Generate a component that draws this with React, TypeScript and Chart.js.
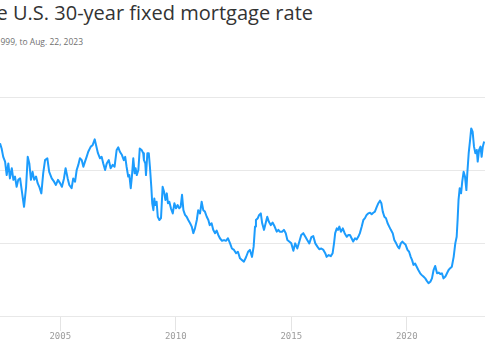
import React, { useEffect, useRef } from 'react';
import { Chart, registerables } from 'chart.js';

Chart.register(...registerables);

// Decimal year of each observation
const years = [
  2002.39, 2002.46, 2002.53, 2002.61, 2002.68, 2002.75, 2002.82, 2002.90, 2002.97,
  2003.04, 2003.11, 2003.18, 2003.26, 2003.33, 2003.43, 2003.52, 2003.59, 2003.66, 2003.73, 2003.80, 2003.87, 2003.95,
  2004.02, 2004.09, 2004.18, 2004.26, 2004.34, 2004.44, 2004.52, 2004.63, 2004.73, 2004.81, 2004.90, 2004.99,
  2005.07, 2005.16, 2005.23, 2005.32, 2005.39, 2005.49, 2005.56, 2005.64, 2005.71, 2005.78, 2005.85, 2005.93,
  2006.00, 2006.07, 2006.14, 2006.21, 2006.32, 2006.40, 2006.49, 2006.55, 2006.63, 2006.72, 2006.79, 2006.86, 2006.94,
  2007.01, 2007.10, 2007.18, 2007.27, 2007.35, 2007.44, 2007.51, 2007.58, 2007.67, 2007.75, 2007.81, 2007.87, 2007.94, 2007.99,
  2008.05, 2008.10, 2008.16, 2008.22, 2008.26, 2008.31, 2008.38, 2008.44, 2008.52, 2008.59, 2008.62, 2008.68, 2008.71, 2008.77, 2008.83, 2008.88, 2008.94, 2008.98,
  2009.03, 2009.07, 2009.11, 2009.17, 2009.22, 2009.29, 2009.36, 2009.43, 2009.49, 2009.55, 2009.61, 2009.66, 2009.72, 2009.79, 2009.87, 2009.94,
  2010.01, 2010.08, 2010.15, 2010.21, 2010.27, 2010.33, 2010.40, 2010.47, 2010.54, 2010.62, 2010.69, 2010.76, 2010.83, 2010.91, 2010.97,
  2011.05, 2011.12, 2011.19, 2011.26, 2011.34, 2011.41, 2011.47, 2011.55, 2011.62, 2011.70, 2011.77, 2011.84, 2011.91,
  2012.00, 2012.09, 2012.17, 2012.26, 2012.35, 2012.43, 2012.52, 2012.61, 2012.69, 2012.78, 2012.87, 2012.95,
  2013.04, 2013.13, 2013.21, 2013.30, 2013.37, 2013.43, 2013.47, 2013.55, 2013.61, 2013.68, 2013.74, 2013.82, 2013.89, 2013.96,
  2014.03, 2014.11, 2014.19, 2014.28, 2014.37, 2014.44, 2014.50, 2014.60, 2014.68, 2014.76, 2014.83, 2014.91,
  2015.00, 2015.09, 2015.17, 2015.26, 2015.35, 2015.43, 2015.52, 2015.61, 2015.69, 2015.78, 2015.87, 2015.95,
  2016.04, 2016.13, 2016.21, 2016.30, 2016.39, 2016.47, 2016.53, 2016.62, 2016.71, 2016.79, 2016.85, 2016.90, 2016.97,
  2017.02, 2017.08, 2017.15, 2017.23, 2017.31, 2017.40, 2017.47, 2017.54, 2017.61, 2017.68, 2017.76, 2017.83, 2017.90, 2017.97,
  2018.05, 2018.12, 2018.19, 2018.26, 2018.33, 2018.41, 2018.48, 2018.55, 2018.62, 2018.70, 2018.77, 2018.84, 2018.90, 2018.96,
  2019.03, 2019.10, 2019.17, 2019.24, 2019.31, 2019.39, 2019.46, 2019.54, 2019.61, 2019.67, 2019.74, 2019.81, 2019.88, 2019.95,
  2020.03, 2020.10, 2020.17, 2020.23, 2020.29, 2020.36, 2020.43, 2020.50, 2020.58, 2020.65, 2020.72, 2020.80, 2020.86, 2020.94,
  2021.02, 2021.09, 2021.16, 2021.23, 2021.31, 2021.38, 2021.45, 2021.52, 2021.59, 2021.67, 2021.74, 2021.81, 2021.88, 2021.95,
  2022.03, 2022.10, 2022.16, 2022.20, 2022.24, 2022.29, 2022.35, 2022.40, 2022.46, 2022.52, 2022.58, 2022.62, 2022.68, 2022.74, 2022.79, 2022.85, 2022.91, 2022.97,
  2023.03, 2023.07, 2023.13, 2023.19, 2023.24, 2023.29, 2023.35,
];

// 30-year fixed mortgage rate, percent
const rates = [
  6.73, 6.59, 6.36, 6.23, 5.86, 6.18, 5.77, 6.05, 5.73,
  5.82, 5.54, 5.73, 5.77, 5.45, 4.99, 5.54, 6.36, 6.18, 5.73, 5.95, 5.73, 5.82,
  5.64, 5.54, 5.36, 5.91, 6.27, 6.32, 5.95, 5.77, 5.68, 5.59, 5.73, 5.64,
  5.54, 5.77, 6.05, 5.77, 5.59, 5.50, 5.77, 5.68, 6.00, 6.14, 6.32, 6.27,
  6.09, 6.23, 6.36, 6.50, 6.64, 6.68, 6.84, 6.68, 6.46, 6.32, 6.36, 6.18, 6.00,
  6.18, 6.27, 6.05, 6.14, 6.09, 6.55, 6.62, 6.50, 6.41, 6.27, 6.36, 6.09, 5.82, 5.86,
  5.50, 5.82, 6.32, 5.91, 6.05, 5.86, 6.00, 6.59, 6.55, 6.46, 6.27, 6.18, 5.86, 6.46, 6.46, 6.09, 5.54, 5.09,
  4.90, 5.22, 5.04, 5.13, 4.72, 4.63, 4.68, 5.54, 5.41, 5.18, 5.36, 5.09, 5.13, 4.95, 4.81, 5.09,
  4.95, 5.04, 4.95, 4.99, 5.32, 4.90, 4.77, 4.72, 4.63, 4.54, 4.45, 4.27, 4.40, 4.63, 4.90,
  4.81, 5.13, 4.90, 4.86, 4.72, 4.63, 4.49, 4.54, 4.36, 4.27, 4.34, 4.22, 4.13,
  4.06, 4.08, 4.06, 4.13, 3.99, 3.85, 3.81, 3.72, 3.76, 3.58, 3.53, 3.49,
  3.61, 3.76, 3.81, 3.62, 3.90, 4.45, 4.63, 4.68, 4.77, 4.81, 4.54, 4.36, 4.54, 4.72,
  4.58, 4.49, 4.56, 4.45, 4.31, 4.36, 4.31, 4.31, 4.36, 4.27, 4.08, 4.04,
  3.99, 3.79, 3.99, 3.85, 4.04, 4.22, 4.27, 4.17, 4.08, 3.99, 4.16, 4.19,
  3.99, 3.90, 3.83, 3.85, 3.81, 3.72, 3.62, 3.67, 3.64, 3.72, 3.99, 4.27, 4.40,
  4.36, 4.45, 4.31, 4.40, 4.27, 4.17, 4.22, 4.22, 4.13, 4.04, 4.13, 4.10, 4.17, 4.27,
  4.45, 4.63, 4.68, 4.77, 4.81, 4.83, 4.79, 4.83, 4.86, 4.99, 5.09, 5.16, 5.09, 4.86,
  4.72, 4.68, 4.54, 4.45, 4.36, 4.27, 4.08, 3.99, 3.90, 3.85, 3.99, 4.04, 3.99, 3.95,
  3.81, 3.76, 3.62, 3.53, 3.40, 3.44, 3.35, 3.26, 3.17, 3.12, 3.08, 3.03, 2.97, 2.90,
  2.94, 3.03, 3.26, 3.37, 3.17, 3.19, 3.15, 3.17, 3.03, 3.08, 3.17, 3.26, 3.31, 3.35,
  3.62, 3.99, 4.17, 4.63, 5.18, 5.50, 5.36, 5.68, 5.95, 5.82, 5.45, 5.91, 6.46, 6.82, 7.14, 7.05, 6.64, 6.46,
  6.55, 6.23, 6.55, 6.64, 6.36, 6.64, 6.78,
];

const tickYears = [2005, 2010, 2015, 2020];
const gridRates = [2, 4, 6, 8];
const titleText = 'The U.S. 30-year fixed mortgage rate';
const subtitleText = 'Jan. 7, 1999, to Aug. 22, 2023';

// visible window of the (cropped) chart
const X_MIN = 2002.39;
const X_MAX = 2023.386;

export default function App() {
  const ref = useRef<HTMLCanvasElement>(null);

  useEffect(() => {
    const chart = new Chart(ref.current as HTMLCanvasElement, {
      type: 'line',
      data: {
        datasets: [
          {
            data: years.map((x, i) => ({ x, y: rates[i] })),
            borderColor: '#1c9cfd',
            borderWidth: 2,
            pointRadius: 0,
            tension: 0,
            fill: false,
            borderJoinStyle: 'round',
          },
        ],
      },
      options: {
        animation: false,
        responsive: false,
        devicePixelRatio: 1,
        layout: { padding: { top: 97, left: 0, right: 0, bottom: 0 } },
        plugins: { legend: { display: false }, tooltip: { enabled: false } },
        scales: {
          x: {
            type: 'linear',
            min: X_MIN,
            max: X_MAX,
            afterBuildTicks: (s: any) => {
              s.ticks = tickYears.map((v) => ({ value: v }));
            },
            afterFit: (s: any) => {
              s.height = 44;
            },
            ticks: {
              callback: (v: any) => String(v),
              color: '#9c9c9c',
              font: { family: 'DejaVu Sans Mono', size: 9 },
              padding: 0,
              maxRotation: 0,
              autoSkip: false,
            },
            grid: { drawOnChartArea: false, tickLength: 15, color: '#e4e4e4' },
            border: { display: false },
          },
          y: {
            min: 2,
            max: 8,
            afterBuildTicks: (s: any) => {
              s.ticks = gridRates.map((v) => ({ value: v }));
            },
            afterFit: (s: any) => {
              s.width = 0;
            },
            ticks: { display: false },
            grid: { drawTicks: false, color: '#e8e8e8', lineWidth: 1 },
            border: { display: false },
          },
        },
      },
    } as any);
    return () => chart.destroy();
  }, []);

  return (
    <div
      style={{
        position: 'fixed',
        left: 0,
        top: 0,
        width: 485,
        height: 360,
        overflow: 'hidden',
        background: '#fff',
      }}
    >
      <div
        style={{
          position: 'absolute',
          right: 485 - 313,
          top: 0,
          whiteSpace: 'nowrap',
          fontFamily: '"Open Sans", sans-serif',
          fontSize: 20,
          lineHeight: '26px',
          color: '#333',
        }}
      >
        {titleText}
      </div>
      <div
        style={{
          position: 'absolute',
          right: 485 - 83,
          top: 36,
          whiteSpace: 'nowrap',
          fontFamily: '"Open Sans", sans-serif',
          fontSize: 8.5,
          lineHeight: '12px',
          color: '#707070',
        }}
      >
        {subtitleText}
      </div>
      <canvas
        ref={ref}
        width={485}
        height={360}
        style={{ position: 'absolute', left: 0, top: 0, width: 485, height: 360 }}
      />
    </div>
  );
}
